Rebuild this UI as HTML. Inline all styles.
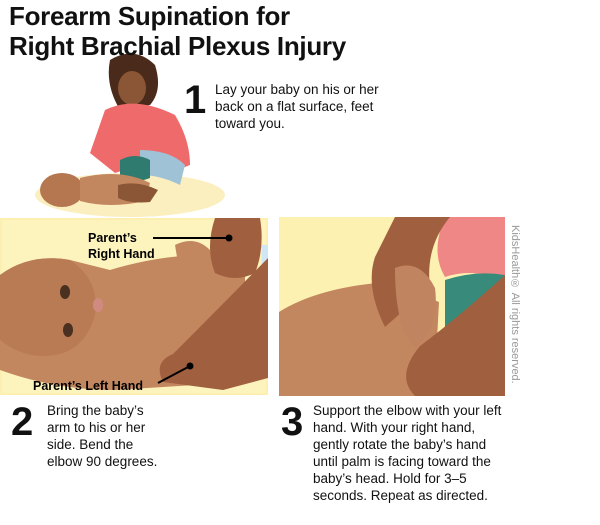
<!DOCTYPE html>
<html><head><meta charset="utf-8"><style>
html,body{margin:0;padding:0;background:#fff;width:600px;height:525px;overflow:hidden}
body{position:relative;font-family:"Liberation Sans",sans-serif;color:#111}
.t{position:absolute;font-size:13.5px;line-height:17px}
.n{position:absolute;font-weight:bold;font-size:40px;line-height:40px}
</style></head><body>
<svg width="600" height="525" style="position:absolute;left:0;top:0">
<ellipse cx="130" cy="195" rx="95" ry="22" fill="#fbefc0"/>
<path d="M110 60 q25 -15 45 5 q8 25 -5 40 l-30 5 q-15 -25 -10 -50z" fill="#4a2a1a"/>
<ellipse cx="132" cy="88" rx="14" ry="17" fill="#8a5636"/>
<path d="M105 110 q30 -15 70 5 q15 25 15 50 l-20 8 q-25 -10 -55 0 l-25 -20 z" fill="#ef6b6b"/>
<path d="M140 150 q30 0 45 15 l-5 20 q-20 -10 -40 -10z" fill="#9fc2d6"/>
<path d="M120 160 q15 -8 30 0 l0 18 q-15 6 -30 0z" fill="#2f7b6f"/>
<ellipse cx="62" cy="190" rx="22" ry="17" fill="#b5774f"/>
<path d="M80 178 q40 -10 70 5 l-5 18 q-35 8 -65 0z" fill="#c3875f"/>
<path d="M118 185 q20 -5 40 5 l-8 12 q-20 2 -32 -4z" fill="#8a5636"/>
<rect x="0" y="218" width="268" height="177" fill="#fcefb0"/>
<rect x="2" y="220" width="264" height="173" fill="#fdf3bd"/>
<path d="M0 275 q30 -22 70 -15 q20 5 40 10 q50 -15 95 -15 l40 5 l0 120 l-50 5 l-80 5 q-60 0 -115 -20z" fill="#c3875f"/>
<path d="M0 275 q30 -22 70 -15 q30 20 25 55 q-10 35 -40 40 q-30 5 -55 -15z" fill="#b87b53"/>
<ellipse cx="65" cy="292" rx="5" ry="7" fill="#4a3020"/>
<ellipse cx="68" cy="330" rx="5" ry="7" fill="#4a3020"/>
<ellipse cx="98" cy="305" rx="5" ry="7" fill="#d08a80"/>
<path d="M175 245 q20 -10 35 5 l5 25 q-15 10 -35 0z" fill="#c3875f"/>
<path d="M215 218 l45 0 q5 30 -5 55 q-20 10 -40 0 q-10 -25 0 -55z" fill="#a0603f"/>
<path d="M262 245 l6 0 l0 85 l-8 0z" fill="#cfe6f4"/>
<path d="M268 258 l0 120 l-45 12 l-60 -8 q-10 -20 10 -28 q40 -40 95 -96z" fill="#a0603f"/>
<line x1="153" y1="238" x2="229" y2="238" stroke="#000" stroke-width="2"/>
<circle cx="229" cy="238" r="3.5" fill="#000"/>
<line x1="158" y1="383" x2="190" y2="366" stroke="#000" stroke-width="2"/>
<circle cx="190" cy="366" r="3.5" fill="#000"/>
<text x="88" y="242" font-family="Liberation Sans" font-weight="bold" font-size="12.5">Parent’s</text>
<text x="88" y="258" font-family="Liberation Sans" font-weight="bold" font-size="12.5">Right Hand</text>
<text x="33" y="390" font-family="Liberation Sans" font-weight="bold" font-size="12.5">Parent’s Left Hand</text>
<rect x="279" y="217" width="226" height="179" fill="#fdf1b2"/>
<path d="M445 217 l60 0 l0 65 q-30 -15 -60 -5 q-15 -25 0 -60z" fill="#ef8787"/>
<path d="M445 280 q30 -10 60 -5 l0 121 l-60 0z" fill="#388a7a"/>
<path d="M279 312 q40 -25 110 -30 l50 20 l-5 94 l-155 0z" fill="#c3875f"/>
<path d="M395 217 l55 0 q-25 30 -20 70 l-45 40 q-20 -40 -10 -70z" fill="#a0603f"/>
<path d="M395 268 q25 -10 40 20 q5 40 -20 60 q-20 -20 -20 -80z" fill="#c08560"/>
<path d="M505 275 l0 121 l-90 0 q-20 -20 5 -50 q40 -30 85 -71z" fill="#a0603f"/>
</svg>
<div style="position:absolute;left:9px;top:1px;font-weight:bold;font-size:26px;line-height:30px;letter-spacing:-0.3px">Forearm Supination for<br>Right Brachial Plexus Injury</div>
<div class="n" style="left:184px;top:80px">1</div>
<div class="t" style="left:215px;top:81px">Lay your baby on his or her<br>back on a flat surface, feet<br>toward you.</div>
<div class="n" style="left:11px;top:402px">2</div>
<div class="t" style="left:47px;top:402px">Bring the baby’s<br>arm to his or her<br>side. Bend the<br>elbow 90 degrees.</div>
<div class="n" style="left:281px;top:402px">3</div>
<div class="t" style="left:313px;top:402px">Support the elbow with your left<br>hand. With your right hand,<br>gently rotate the baby’s hand<br>until palm is facing toward the<br>baby’s head. Hold for 3–5<br>seconds. Repeat as directed.</div>
<div style="position:absolute;left:509px;top:225px;writing-mode:vertical-rl;font-size:11px;color:#999">KidsHealth® All rights reserved.</div>
</body></html>
